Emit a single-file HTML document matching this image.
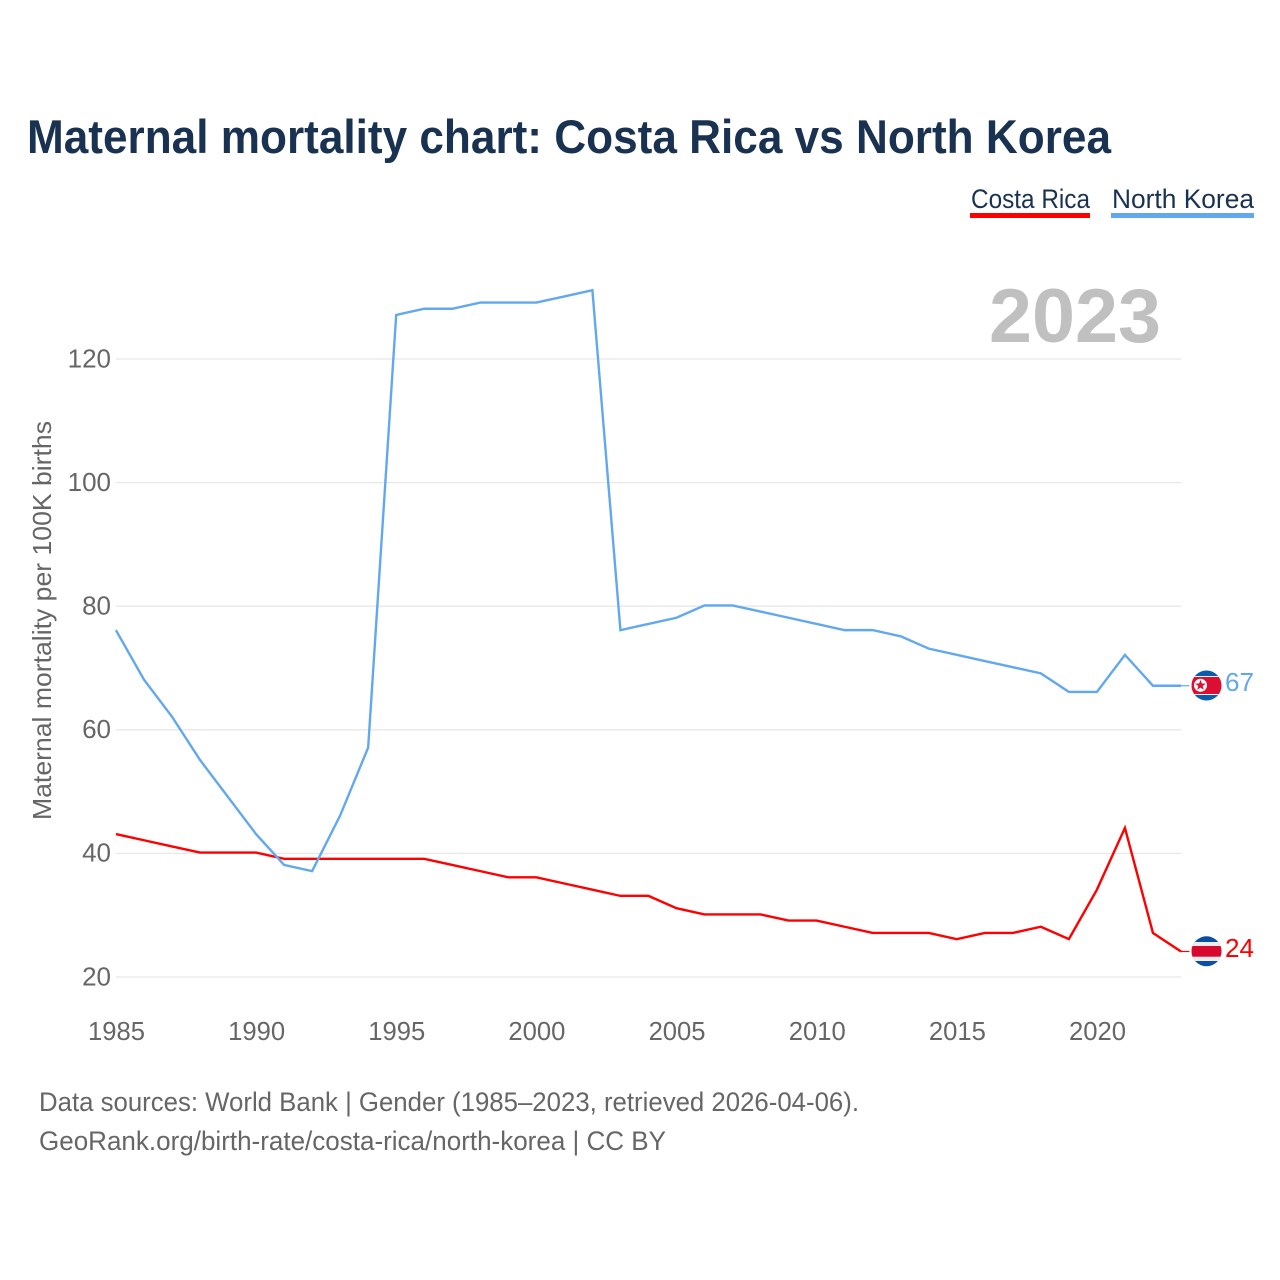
<!DOCTYPE html>
<html>
<head>
<meta charset="utf-8">
<title>Maternal mortality chart: Costa Rica vs North Korea</title>
<style>
html,body{margin:0;padding:0;background:#fff;}
svg{display:block;}
text{font-family:"Liberation Sans",sans-serif;}
</style>
</head>
<body>
<svg id="chart" xmlns="http://www.w3.org/2000/svg" width="1280" height="1280" viewBox="0 0 1280 1280">
  <defs>
    <clipPath id="flag-clip-nk"><circle cx="1206.5" cy="685.5" r="15"/></clipPath>
    <clipPath id="flag-clip-cr"><circle cx="1206.5" cy="951.3" r="15"/></clipPath>
  </defs>
  <rect width="1280" height="1280" fill="#fff"/>
  <text x="27" y="153" font-size="47" font-weight="700" fill="#1a3252" textLength="1084" lengthAdjust="spacingAndGlyphs">Maternal mortality chart: Costa Rica vs North Korea</text>

  <g>
    <g>
      <text x="971" y="208" font-size="27" fill="#1a3252" textLength="119" lengthAdjust="spacingAndGlyphs">Costa Rica</text>
      <rect x="970" y="213" width="120" height="5" fill="#ff0000"/>
    </g>
    <g>
      <text x="1112" y="208" font-size="27" fill="#1a3252" textLength="142" lengthAdjust="spacingAndGlyphs">North Korea</text>
      <rect x="1111" y="213" width="143" height="5" fill="#62a8ee"/>
    </g>
  </g>

  <g id="grid"></g>
  <g id="y-ticks"></g>
  <g id="x-ticks"></g>

  <text x="989" y="342" font-size="76" font-weight="700" fill="#c0c0c0" textLength="172" lengthAdjust="spacingAndGlyphs">2023</text>

  <text transform="translate(51,820) rotate(-90)" x="0" y="0" font-size="26" fill="#666666" textLength="399" lengthAdjust="spacingAndGlyphs">Maternal mortality per 100K births</text>

  <g id="series" transform="translate(-0.6,-0.8)"></g>

  <g clip-path="url(#flag-clip-nk)">
    <rect x="1191" y="670" width="31" height="31" fill="#0b5cad"/>
    <rect x="1191" y="676" width="31" height="19" fill="#f2f2f2"/>
    <rect x="1191" y="677" width="31" height="17" fill="#dc0f32"/>
    <circle cx="1200.5" cy="685.3" r="6.5" fill="#fff"/>
    <polygon points="1200.5,679.8 1201.9,683.5 1205.8,683.6 1202.7,686 1203.8,689.8 1200.5,687.6 1197.2,689.8 1198.3,686 1195.2,683.6 1199.1,683.5" fill="#dc0f32"/>
  </g>
  <g clip-path="url(#flag-clip-cr)">
    <rect x="1191" y="936" width="31" height="31" fill="#0b4ea2"/>
    <rect x="1191" y="942" width="31" height="19" fill="#eeeeee"/>
    <rect x="1191" y="946" width="31" height="10.7" fill="#d8092f"/>
  </g>
  <text id="end-label-nk" x="1225" y="691" font-size="26" fill="#62a8ee" textLength="29" lengthAdjust="spacingAndGlyphs"></text>
  <text id="end-label-cr" x="1225" y="957" font-size="26" fill="#ff0000" textLength="29" lengthAdjust="spacingAndGlyphs"></text>

  <g>
    <text x="39" y="1111" font-size="26.5" fill="#666666" textLength="820" lengthAdjust="spacingAndGlyphs">Data sources: World Bank | Gender (1985–2023, retrieved 2026-04-06).</text>
    <text x="39" y="1150" font-size="26.5" fill="#666666" textLength="627" lengthAdjust="spacingAndGlyphs">GeoRank.org/birth-rate/costa-rica/north-korea | CC BY</text>
  </g>
</svg>
<script>
const years = [1985,1986,1987,1988,1989,1990,1991,1992,1993,1994,1995,1996,1997,1998,1999,2000,2001,2002,2003,2004,2005,2006,2007,2008,2009,2010,2011,2012,2013,2014,2015,2016,2017,2018,2019,2020,2021,2022,2023];
const costaRica = [43,42,41,40,40,40,39,39,39,39,39,39,38,37,36,36,35,34,33,33,31,30,30,30,29,29,28,27,27,27,26,27,27,28,26,34,44,27,24];
const northKorea = [76,68,62,55,49,43,38,37,46,57,127,128,128,129,129,129,130,131,76,77,78,80,80,79,78,77,76,76,75,73,72,71,70,69,66,66,72,67,67];
const yTicks = [20,40,60,80,100,120];
const xTicks = [1985,1990,1995,2000,2005,2010,2015,2020];

const NS = 'http://www.w3.org/2000/svg';
function xScale(year){ return 116.5 + (year - 1985) * (1097.5 - 116.5) / 35; }
function yScale(v){ return 977 - (v - 20) * (977 - 359) / 100; }

const grid = document.getElementById('grid');
const yGroup = document.getElementById('y-ticks');
const xGroup = document.getElementById('x-ticks');
const seriesGroup = document.getElementById('series');

yTicks.forEach(function(t){
  const line = document.createElementNS(NS,'line');
  
  
  line.setAttribute('x1', 116);
  line.setAttribute('x2', 1181);
  line.setAttribute('y1', yScale(t));
  line.setAttribute('y2', yScale(t));
  line.setAttribute('stroke', '#e8e8e8');
  line.setAttribute('stroke-width', '1.3');
  grid.appendChild(line);

  const label = document.createElementNS(NS,'text');
  
  
  label.setAttribute('x', 111);
  label.setAttribute('y', yScale(t) + 8.3);
  label.setAttribute('text-anchor', 'end');
  label.setAttribute('font-size', '26');
  label.setAttribute('fill', '#666666');
  label.textContent = t;
  yGroup.appendChild(label);
});

xTicks.forEach(function(t){
  const label = document.createElementNS(NS,'text');
  
  
  label.setAttribute('x', xScale(t));
  label.setAttribute('y', 1040);
  label.setAttribute('text-anchor', 'middle');
  label.setAttribute('font-size', '26');
  label.setAttribute('fill', '#666666');
  label.setAttribute('textLength', '57');
  label.setAttribute('lengthAdjust', 'spacingAndGlyphs');
  label.textContent = t;
  xGroup.appendChild(label);
});

function pathFor(values){
  return values.map(function(v,i){
    return (i ? 'L' : 'M') + xScale(years[i]).toFixed(2) + ' ' + yScale(v).toFixed(2);
  }).join(' ');
}

const crLine = document.createElementNS(NS,'path');


crLine.setAttribute('d', pathFor(costaRica));
crLine.setAttribute('fill', 'none');
crLine.setAttribute('stroke', '#ff0000');
crLine.setAttribute('stroke-width', '2.4');
seriesGroup.appendChild(crLine);

const nkLine = document.createElementNS(NS,'path');


nkLine.setAttribute('d', pathFor(northKorea));
nkLine.setAttribute('fill', 'none');
nkLine.setAttribute('stroke', '#62a8ee');
nkLine.setAttribute('stroke-width', '2.4');
seriesGroup.appendChild(nkLine);

const nkLeader = document.createElementNS(NS,'line');


nkLeader.setAttribute('x1', xScale(2023));
nkLeader.setAttribute('x2', 1190);
nkLeader.setAttribute('y1', yScale(northKorea[northKorea.length-1]));
nkLeader.setAttribute('y2', yScale(northKorea[northKorea.length-1]));
nkLeader.setAttribute('stroke', '#62a8ee');
nkLeader.setAttribute('stroke-width', '1.2');
seriesGroup.appendChild(nkLeader);

const crLeader = document.createElementNS(NS,'line');


crLeader.setAttribute('x1', xScale(2023));
crLeader.setAttribute('x2', 1190);
crLeader.setAttribute('y1', yScale(costaRica[costaRica.length-1]));
crLeader.setAttribute('y2', yScale(costaRica[costaRica.length-1]));
crLeader.setAttribute('stroke', '#ff0000');
crLeader.setAttribute('stroke-width', '1.2');
seriesGroup.appendChild(crLeader);

document.getElementById('end-label-nk').textContent = northKorea[northKorea.length-1];
document.getElementById('end-label-cr').textContent = costaRica[costaRica.length-1];
</script>
</body>
</html>
